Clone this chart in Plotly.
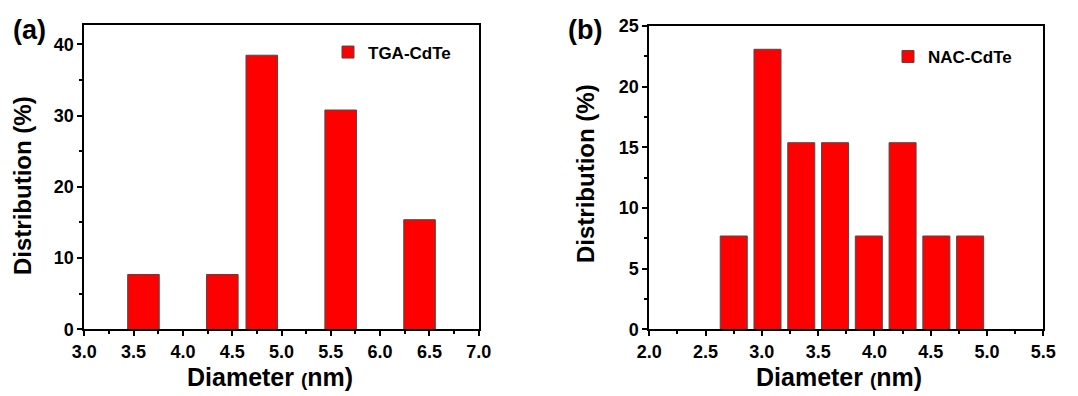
import plotly.graph_objects as go

# Panel (a): TGA-CdTe
tga_diam = [3.6, 4.4, 4.8, 5.6, 6.4]
tga_dist = [7.69, 7.69, 38.46, 30.77, 15.38]
tga_width = 0.32

# Panel (b): NAC-CdTe
nac_diam = [2.75, 3.05, 3.35, 3.65, 3.95, 4.25, 4.55, 4.85]
nac_dist = [7.69, 23.08, 15.38, 15.38, 7.69, 15.38, 7.69, 7.69]
nac_width = 0.24

a_xticks = [3.0, 3.5, 4.0, 4.5, 5.0, 5.5, 6.0, 6.5, 7.0]
b_xticks = [2.0, 2.5, 3.0, 3.5, 4.0, 4.5, 5.0, 5.5]
a_yticks = [0, 10, 20, 30, 40]
b_yticks = [0, 5, 10, 15, 20, 25]

FONT = "Liberation Sans"
RED = "#FF0000"
EDGE = "#4a4a4a"

fig = go.Figure()
fig.add_trace(go.Bar(x=tga_diam, y=tga_dist, width=tga_width, name="TGA-CdTe",
                     marker=dict(color=RED, line=dict(color=EDGE, width=1)),
                     xaxis="x", yaxis="y", legend="legend", showlegend=True))
fig.add_trace(go.Bar(x=nac_diam, y=nac_dist, width=nac_width, name="NAC-CdTe",
                     marker=dict(color=RED, line=dict(color=EDGE, width=1)),
                     xaxis="x2", yaxis="y2", legend="legend2", showlegend=True))

W, H = 1078, 396
def px(x):
    return x / W
def py(y):
    return (H - y) / H

tickfont = dict(family=FONT, size=18, color="black")

def xax(domain, rng, ticks, anchor):
    return dict(domain=domain, range=rng, tickvals=ticks, ticktext=[f"<b>{t:.1f}</b>" for t in ticks],
                ticks="outside", ticklen=5, tickwidth=2, tickcolor="black",
                minor=dict(dtick=0.25, tick0=0, ticks="outside", ticklen=3, tickwidth=1.5, tickcolor="black"),
                showline=True, linewidth=2, linecolor="black", mirror=True, showgrid=False,
                zeroline=False, tickfont=tickfont, anchor=anchor, automargin=False)

def yax(domain, rng, ticks, anchor):
    dt = ticks[1] - ticks[0]
    return dict(domain=domain, range=rng, tickvals=ticks, ticktext=[f"<b>{t}</b>" for t in ticks],
                ticks="outside", ticklen=5, tickwidth=2, tickcolor="black",
                minor=dict(dtick=dt / 2, tick0=0, ticks="outside", ticklen=3, tickwidth=1.5, tickcolor="black"),
                showline=True, linewidth=2, linecolor="black", mirror=True, showgrid=False,
                zeroline=False, tickfont=tickfont, anchor=anchor, automargin=False)

xtitle = "<b>Diameter <span style='font-size:19px'>(</span>nm)</b>"
ytitle = "<b>Distribution (%)</b>"

def ann(text, x, y, size, angle=0):
    return dict(text=text, x=px(x), y=py(y), xref="paper", yref="paper", showarrow=False,
                xanchor="center", yanchor="middle", textangle=angle,
                font=dict(family=FONT, size=size, color="black"))

fig.update_layout(
    width=W, height=H, margin=dict(l=0, r=0, t=0, b=0),
    paper_bgcolor="white", plot_bgcolor="white", barmode="overlay",
    font=dict(family=FONT, color="black"), showlegend=True,
    xaxis=xax([px(84.3), px(478.7)], [3.0, 7.0], a_xticks, "y"),
    yaxis=yax([py(329.3), py(25)], [0, 42.7], a_yticks, "x"),
    xaxis2=xax([px(649.3), px(1043.3)], [2.0, 5.5], b_xticks, "y2"),
    yaxis2=yax([py(329.3), py(26)], [0, 25], b_yticks, "x2"),
    legend=dict(x=px(328), y=py(52.5), xanchor="left", yanchor="middle",
                font=dict(family=FONT, size=17, color="black", weight="bold"), bgcolor="rgba(0,0,0,0)"),
    legend2=dict(x=px(888), y=py(57), xanchor="left", yanchor="middle",
                 font=dict(family=FONT, size=17, color="black", weight="bold"), bgcolor="rgba(0,0,0,0)"),
    annotations=[
        ann("<b>(a)</b>", 29, 30, 27),
        ann("<b>(b)</b>", 585, 30, 27),
        ann(xtitle, 270, 377, 25),
        ann(xtitle, 839, 377, 25),
        ann(ytitle, 22, 186, 24, -90),
        ann(ytitle, 585, 174, 24, -90),
    ],
)

fig.write_html("out.html", config={"displayModeBar": False},
               post_script="document.body.style.margin='0';document.body.style.overflow='hidden';")
